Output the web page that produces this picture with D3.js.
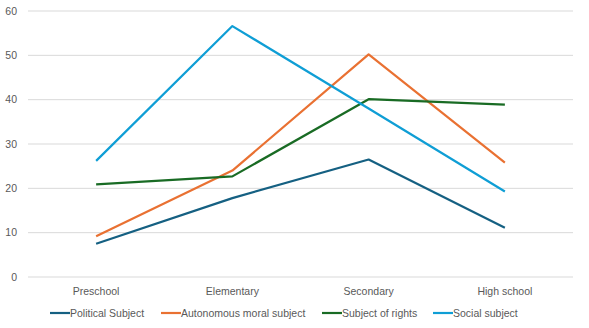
<!DOCTYPE html>
<html><head><meta charset="utf-8">
<script src="https://cdn.jsdelivr.net/npm/d3@7"></script>
<style>body{margin:0;background:#fff}svg{display:block}text{font-family:"Liberation Sans",Arial,sans-serif;fill:#595959}</style>
</head><body><svg id="c" width="589" height="328"></svg>
<script>
const categories = ["Preschool","Elementary","Secondary","High school"];
const seriesNames = ["Political Subject","Autonomous moral subject","Subject of rights","Social subject"];
const political = [7.5, 17.8, 26.5, 11.1];
const autonomous = [9.2, 24.0, 50.2, 25.8];
const rights = [20.9, 22.7, 40.1, 38.9];
const social = [26.2, 56.6, 38.0, 19.3];
const yTicks = [0,10,20,30,40,50,60];
const colors = ["#156082","#E97132","#196B24","#0F9ED5"];
const seriesValues = [political, autonomous, rights, social];

const svg = d3.select("#c");
const x = d3.scaleBand().domain(categories).range([28,573]);
const y = d3.scaleLinear().domain([0,60]).range([277,11]);

svg.append("g").selectAll("line").data(yTicks).join("line")
  .attr("x1",28).attr("x2",573).attr("y1",d=>y(d)).attr("y2",d=>y(d))
  .attr("stroke","#d9d9d9").attr("stroke-width",1);
svg.append("g").selectAll("text").data(yTicks).join("text")
  .attr("x",17).attr("y",d=>y(d)).attr("dy","0.35em").attr("text-anchor","end")
  .attr("font-size",10.5).text(d=>d);
svg.append("g").selectAll("text").data(categories).join("text")
  .attr("x",d=>x(d)+x.bandwidth()/2).attr("y",291).attr("dy","0.35em").attr("text-anchor","middle")
  .attr("font-size",10.5).text(d=>d);

const line = d3.line().x((d,i)=>x(categories[i])+x.bandwidth()/2).y(d=>y(d));
svg.append("g").selectAll("path").data(seriesValues).join("path")
  .attr("d",d=>line(d)).attr("fill","none").attr("stroke",(d,i)=>colors[i])
  .attr("stroke-width",2.2).attr("stroke-linejoin","round");

const legX = [50,161,322,433];
const lg = svg.append("g").selectAll("g").data(seriesNames).join("g")
  .attr("transform",(d,i)=>`translate(${legX[i]},313)`);
lg.append("line").attr("x1",0).attr("x2",20).attr("stroke",(d,i)=>colors[i]).attr("stroke-width",2.2);
lg.append("text").attr("x",20).attr("dy","0.35em").attr("font-size",10.5).text(d=>d);
</script></body></html>
